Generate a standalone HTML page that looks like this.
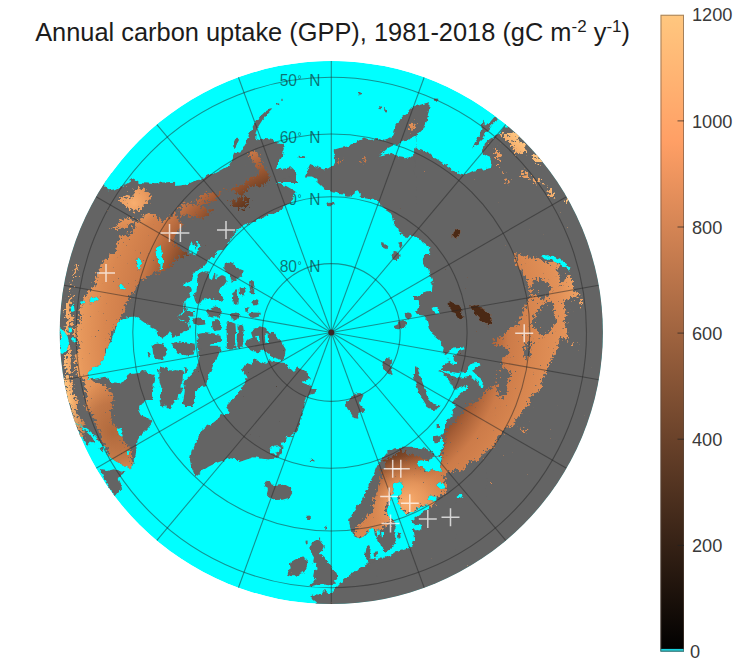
<!DOCTYPE html>
<html lang="en"><head><meta charset="utf-8"><title>Annual carbon uptake (GPP)</title>
<style>
html,body{margin:0;padding:0;background:#fff;}
body{width:750px;height:671px;overflow:hidden;position:relative;font-family:"Liberation Sans",Arial,Helvetica,sans-serif;}
svg{position:absolute;left:0;top:0;display:block}
.land{fill:#646464}
.sea{fill:#00ffff}
.grid{fill:none;stroke:#262626;stroke-opacity:.5;stroke-width:1.1}
.lab{font-size:15.6px;fill:#141414;fill-opacity:.6;text-anchor:end}
.tick{font-size:18.2px;fill:#3a3a3a}
.ttl{font-size:25.4px;fill:#1c1c1c}
.mk{stroke:#fff;stroke-opacity:.72;stroke-width:1.5;fill:none}
</style></head><body>
<svg width="750" height="671" viewBox="0 0 750 671" font-family="Liberation Sans, Arial, Helvetica, sans-serif">
<defs>
<clipPath id="disc"><circle cx="331.3" cy="332.5" r="271.6"/></clipPath>
<linearGradient id="cop" x1="0" y1="1" x2="0" y2="0">
<stop offset="0" stop-color="#000"/><stop offset="0.8" stop-color="rgb(255,159,101)"/><stop offset="1" stop-color="rgb(255,199,127)"/>
</linearGradient>

<radialGradient id="gpp" gradientUnits="userSpaceOnUse" cx="331.3" cy="332.5" r="272">
<stop offset="0.40" stop-color="#3a2010"/><stop offset="0.50" stop-color="#6e3e22"/><stop offset="0.58" stop-color="#a65e36"/>
<stop offset="0.65" stop-color="#cc7b49"/><stop offset="0.75" stop-color="#d98750"/><stop offset="0.85" stop-color="#e29158"/><stop offset="0.93" stop-color="#f0a364"/><stop offset="1" stop-color="#ffc680"/>
</radialGradient>
<filter id="rough" filterUnits="userSpaceOnUse" x="0" y="0" width="750" height="671" color-interpolation-filters="sRGB">
<feTurbulence type="fractalNoise" baseFrequency="0.07" numOctaves="3" seed="7" result="n"/>
<feDisplacementMap in="SourceGraphic" in2="n" scale="16" xChannelSelector="R" yChannelSelector="G" result="d"/>
<feGaussianBlur in="d" stdDeviation="2.6" result="b"/>
<feTurbulence type="fractalNoise" baseFrequency="0.42" numOctaves="2" seed="23" result="n2"/>
<feComposite in="b" in2="n2" operator="arithmetic" k1="0" k2="1" k3="1.3" k4="-0.65" result="c"/>
<feColorMatrix in="c" type="matrix" values="0 0 0 0 1  0 0 0 0 1  0 0 0 0 1  0 0 0 9 -4.1"/>
</filter>
<filter id="coast" filterUnits="userSpaceOnUse" x="0" y="0" width="750" height="671" color-interpolation-filters="sRGB">
<feTurbulence type="fractalNoise" baseFrequency="0.22" numOctaves="2" seed="3" result="n"/>
<feDisplacementMap in="SourceGraphic" in2="n" scale="4.5" xChannelSelector="R" yChannelSelector="G" result="dd"/>
<feGaussianBlur in="dd" stdDeviation="0.55"/>
</filter>
<filter id="rough2" filterUnits="userSpaceOnUse" x="0" y="0" width="750" height="671" color-interpolation-filters="sRGB">
<feTurbulence type="fractalNoise" baseFrequency="0.1" numOctaves="3" seed="41" result="n"/>
<feDisplacementMap in="SourceGraphic" in2="n" scale="14" xChannelSelector="R" yChannelSelector="G" result="d"/>
<feGaussianBlur in="d" stdDeviation="2" result="b"/>
<feTurbulence type="fractalNoise" baseFrequency="0.4" numOctaves="2" seed="5" result="n2"/>
<feComposite in="b" in2="n2" operator="arithmetic" k1="0" k2="1" k3="1.6" k4="-0.8" result="c"/>
<feColorMatrix in="c" type="matrix" values="0 0 0 0 0  0 0 0 0 0  0 0 0 0 0  0 0 0 9 -4.1"/>
</filter>
<radialGradient id="gppNA" gradientUnits="userSpaceOnUse" cx="331.3" cy="332.5" r="272">
<stop offset="0.485" stop-color="#3a2010"/><stop offset="0.585" stop-color="#6e3e22"/><stop offset="0.665" stop-color="#a65e36"/>
<stop offset="0.735" stop-color="#cc7b49"/><stop offset="0.835" stop-color="#d98750"/><stop offset="0.92" stop-color="#e7985c"/><stop offset="0.97" stop-color="#f4a866"/><stop offset="1" stop-color="#ffc680"/>
</radialGradient>
<radialGradient id="glow2" gradientUnits="userSpaceOnUse" cx="134" cy="203" r="26">
<stop offset="0" stop-color="#fbb273" stop-opacity=".9"/><stop offset="0.5" stop-color="#f4a768" stop-opacity=".6"/><stop offset="1" stop-color="#e7985c" stop-opacity="0"/>
</radialGradient>
<radialGradient id="glow" gradientUnits="userSpaceOnUse" cx="407" cy="502" r="46">
<stop offset="0" stop-color="#fbb070" stop-opacity=".95"/><stop offset="0.45" stop-color="#f0a063" stop-opacity=".7"/><stop offset="1" stop-color="#e08f55" stop-opacity="0"/>
</radialGradient>
<radialGradient id="shade" gradientUnits="userSpaceOnUse" cx="112" cy="432" r="52">
<stop offset="0" stop-color="#a05c34" stop-opacity=".75"/><stop offset="0.55" stop-color="#a8623a" stop-opacity=".55"/><stop offset="1" stop-color="#b2693d" stop-opacity="0"/>
</radialGradient>
<mask id="veg" maskUnits="userSpaceOnUse" x="0" y="0" width="750" height="671"><g filter="url(#rough)" fill="#fff">
<polygon points="123.6,470.5 114.6,463.9 108.7,455.0 102.7,443.1 96.7,431.1 92.3,419.2 89.3,407.3 86.3,392.4 83.3,380.5 78.8,368.6 76.5,360.0 76.1,347.3 76.5,333.0 77.4,320.5 78.3,308.0 81.8,299.0 89.0,293.7 91.7,284.7 95.3,275.8 100.6,266.8 106.9,257.9 114.0,248.9 121.2,240.0 130.1,234.0 134.6,226.9 139.1,219.7 142.7,213.5 146.2,210.8 151.6,212.6 157.0,215.3 162.3,217.0 169.5,215.3 176.0,211.0 181.7,226.1 177.2,233.6 174.2,242.5 180.2,248.5 187.6,251.4 189.1,255.9 183.2,258.9 174.2,260.4 166.8,264.9 159.3,270.8 151.9,274.3 144.4,277.2 139.1,283.1 133.7,290.1 130.1,295.5 126.6,302.6 123.0,311.6 118.5,318.7 115.8,325.9 113.1,333.0 110.5,340.2 107.8,349.1 106.0,360.0 102.7,361.1 93.7,368.0 86.3,374.5 93.7,380.5 105.7,384.9 114.6,389.4 111.6,398.4 108.7,407.3 113.1,419.2 119.1,431.1 125.0,443.1 131.0,455.0 135.5,465.4 131.0,471.4"/>
<polygon points="116.7,203.6 123.0,200.0 130.1,194.7 139.1,192.0 148.0,192.9 151.6,196.5 148.9,201.8 143.5,206.3 139.1,210.8 133.7,209.0 126.5,207.2 120.3,207.2"/>
<polygon points="105.1,227.8 112.2,226.0 121.2,222.4 128.3,219.7 133.7,218.8 134.6,223.3 130.1,226.9 124.7,230.4 115.8,232.2 108.7,231.3"/>
<polygon points="251.8,155.8 257.8,153.4 262.6,162.9 267.3,171.3 265.0,180.8 256.6,185.6 249.5,190.3 239.9,192.7 230.4,191.5 226.8,189.2 235.1,186.8 244.7,184.4 253.0,179.6 259.0,173.7 256.6,166.5 253.0,160.5"/>
<polygon points="230.4,203.5 237.5,199.9 247.1,198.7 251.8,202.3 244.7,207.0 235.1,208.7"/>
<polygon points="194.6,199.9 201.8,196.3 211.3,195.1 218.5,197.5 216.1,202.3 206.5,203.5 198.2,203.9"/>
<polygon points="181.5,211.8 189.8,208.2 199.4,206.3 208.9,207.0 213.7,210.6 206.5,214.2 195.8,214.9 186.3,215.4"/>
<polygon points="161.2,253.5 170.8,250.0 182.7,248.8 189.8,252.3 182.7,258.3 173.2,261.9 163.6,260.7"/>
<polygon points="439.5,474.4 451.4,471.4 463.4,465.5 475.3,459.5 484.2,452.1 493.2,444.6 500.6,435.7 508.1,429.7 515.5,423.7 520.0,414.8 524.5,402.9 533.2,400.9 539.1,388.9 545.1,377.0 548.1,365.1 554.0,353.2 557.0,344.2 563.0,338.3 571.9,344.2 577.9,341.2 574.9,329.3 571.9,320.4 576.4,311.4 580.9,305.5 577.9,296.5 573.4,284.6 570.4,275.7 563.0,268.2 554.0,263.7 545.1,265.2 539.1,260.8 530.2,257.8 518.3,253.3 507.8,248.8 515.3,257.8 521.2,266.7 524.2,275.7 527.2,284.6 530.2,293.6 527.2,302.5 524.2,311.4 518.3,320.4 509.3,329.3 500.4,336.8 491.4,341.2 497.4,347.2 506.3,353.2 503.4,362.1 497.4,374.0 491.4,386.0 482.5,394.9 476.0,403.8 470.8,402.9 464.9,411.8 458.9,417.8 452.9,426.7 448.5,435.7 445.5,444.6 442.5,453.6 439.5,462.5"/>
<polygon points="381.8,469.3 379.1,478.0 377.8,486.1 376.5,494.1 375.1,502.2 372.4,510.2 368.4,516.9 363.0,523.7 357.7,527.7 354.3,529.0 354.3,539.7 360.4,538.4 365.7,534.4 371.1,530.4 376.5,527.7 381.8,526.3 387.2,525.0 391.9,523.7 395.9,523.7 394.2,521.6 390.1,518.3 388.5,514.3 388.1,510.2 388.8,506.2 390.4,500.8 392.2,495.5 393.5,490.1 394.0,484.8 395.2,478.0 396.6,469.3"/>
<polygon points="401.9,482.7 402.7,486.1 401.4,490.1 400.1,494.1 398.7,498.2 398.2,502.2 399.5,506.2 402.2,510.2 405.4,512.9 408.7,514.3 412.7,512.9 416.7,510.2 420.7,508.2 424.7,506.2 428.5,505.1 432.8,502.2 438.2,498.8 446.2,495.5 446.2,469.3 403.3,469.3"/>
<polygon points="385.0,459.0 392.0,455.0 404.0,453.5 416.0,455.0 426.0,458.0 431.0,462.0 424.6,464.0 420.1,470.0 426.1,474.4 435.0,477.4 441.0,483.4 445.0,489.3 445.0,497.0 400.0,497.0 385.0,470.0"/>
<polygon points="180.7,210.6 190.8,206.0 201.1,202.2 210.8,198.5 219.8,194.7 229.0,190.0 227.0,186.0 218.0,190.7 209.2,194.5 199.5,198.0 189.2,202.0 178.9,206.6"/>
<polygon points="185.9,220.6 195.6,217.9 204.7,215.0 212.9,211.3 219.9,207.5 217.9,203.9 211.1,207.7 203.3,211.2 194.4,214.1 184.9,216.8"/>
<polygon points="228.9,203.5 238.9,197.6 249.6,192.4 258.9,186.7 257.1,183.7 247.8,189.2 237.1,194.4 227.1,200.5"/>
<polygon points="66.8,299.5 63.8,319.7 62.8,345.0 63.8,370.3 66.9,395.6 72.9,419.0 81.0,441.1 87.0,438.9 79.1,417.0 73.1,394.4 70.2,369.7 69.2,345.0 70.2,320.3 73.2,300.5"/>
<polygon points="76.0,261.6 72.0,279.6 69.0,299.7 73.0,300.3 76.0,280.4 80.0,262.4"/>
<polygon points="503.4,130.8 511.2,129.3 519.1,133.1 520.2,139.8 513.5,143.6 505.7,140.9 502.3,136.0"/>
<polygon points="485.5,144.3 492.2,151.0 497.7,156.6 500.2,154.2 494.6,148.6 487.9,141.9"/>
<polygon points="514.6,144.9 522.4,143.1 528.7,146.9 526.9,151.6 519.1,152.1 513.9,149.2"/>
<polygon points="527.3,158.1 535.8,157.0 542.1,161.5 540.3,167.3 532.5,168.2 528.0,163.2"/>
<polygon points="519.8,172.8 527.6,179.5 535.4,186.8 538.5,183.5 530.7,176.1 522.8,169.3"/>
<polygon points="499.4,166.8 505.6,175.2 511.9,183.7 514.2,182.1 507.9,173.6 501.6,165.1"/>
<polygon points="494.5,153.9 499.6,152.5 501.9,158.8 498.9,164.4 494.9,161.0"/>
<polygon points="539.7,175.5 545.3,184.3 549.7,193.1 553.0,201.9 556.7,200.5 553.3,191.5 548.8,182.4 543.1,173.4"/>
<polygon points="547.4,186.9 553.7,186.2 557.6,190.1 556.3,195.5 551.0,195.8 547.6,191.9"/>
<polygon points="559.9,199.1 564.4,197.6 566.5,200.8 563.5,203.5 560.4,202.3"/>
<polygon points="411.0,121.0 414.0,120.0 415.5,127.0 413.0,132.0 410.5,129.0"/>
<polygon points="338.5,160.0 344.0,157.5 347.5,160.0 345.0,164.0 340.0,166.0"/>
<polygon points="357.0,159.5 364.0,157.5 372.0,158.5 370.0,162.5 362.0,163.5"/>
<polygon points="373.7,146.2 379.1,147.0 378.5,151.6 374.0,151.0"/>
<polygon points="522.0,427.0 526.0,426.0 528.0,430.0 524.0,432.0"/>
<polygon points="508.0,441.0 511.0,440.0 512.0,444.0 509.0,445.0"/>
<polygon points="478.0,481.0 483.0,480.0 484.0,485.0 479.0,486.0"/>
<polygon points="492.0,478.0 496.0,477.0 497.0,482.0 493.0,483.0"/>
</g><g filter="url(#rough2)" fill="#000">
<polygon points="535.2,311.9 544.9,302.2 556.5,306.1 558.4,319.6 550.7,331.2 541.0,333.2 534.0,325.4"/>
<polygon points="529.4,282.8 541.0,277.0 550.7,284.7 548.7,296.4 537.1,300.2 530.1,294.4"/>
<polygon points="496.4,370.0 506.1,364.2 510.0,377.7 506.1,395.2 498.4,397.1 494.5,383.6"/>
<polygon points="564.2,298.3 579.7,294.4 584.4,315.7 581.7,344.8 568.1,346.7 562.3,327.4"/>
<polygon points="556.5,265.4 566.2,261.5 572.0,273.1 564.2,282.8 556.5,277.0"/>
<polygon points="521.6,342.9 529.4,339.0 533.2,350.6 527.4,360.3 520.8,354.5"/>
</g><g filter="url(#coast)" fill="#fff">
<polygon points="447.5,302.0 452.0,301.0 455.0,304.5 459.0,305.0 462.0,309.5 461.0,313.0 463.5,317.0 460.0,320.5 457.0,317.0 455.5,313.0 452.0,312.0 450.5,307.5 448.0,306.0"/>
<polygon points="470.0,306.5 475.0,305.0 479.0,308.0 484.0,308.5 487.0,312.5 491.5,314.5 490.5,319.0 493.0,323.0 488.5,326.5 485.0,322.5 481.5,321.5 479.0,316.5 475.5,315.5 473.0,311.0"/>
<polygon points="453.5,232.5 456.0,229.5 459.5,228.5 460.5,232.0 459.0,236.0 456.0,239.0 452.5,237.0"/>
</g></mask>
<mask id="landmask" maskUnits="userSpaceOnUse" x="0" y="0" width="750" height="671"><rect width="750" height="671" fill="#000"/><g filter="url(#coast)">
<polygon fill="#fff" points="271.4,108.3 272.6,109.3 267.8,113.9 262.6,119.8 258.6,125.9 256.0,131.9 255.2,137.4 259.4,140.2 265.3,137.8 271.4,139.1 275.5,141.8 282.2,143.2 284.9,148.5 282.2,156.6 278.2,163.3 275.5,170.0 283.5,168.6 291.6,167.3 295.6,171.3 297.0,176.0 297.0,183.0 195.0,183.0 205.7,178.0 213.8,174.0 221.8,170.0 228.5,166.0 232.6,159.2 235.2,152.5 239.3,153.9 242.7,148.5 246.0,143.2 247.9,137.3 250.6,130.3 254.4,123.8 259.6,117.1 265.3,111.5"/>
<polygon fill="#fff" points="237.2,137.6 239.0,139.9 236.7,144.4 234.9,148.0 233.1,146.6 234.0,141.7 235.4,138.7"/>
<polygon fill="#fff" points="276.0,102.4 278.2,102.4 278.2,104.5 276.0,104.5"/>
<polygon fill="#fff" points="281.4,98.8 283.6,98.8 283.6,101.0 281.4,101.0"/>
<polygon fill="#fff" points="304.8,176.6 307.5,169.5 310.2,164.1 316.5,166.8 323.6,169.5 331.7,166.8 335.2,158.7 333.5,149.8 339.7,148.0 348.7,146.2 357.6,141.2 363.9,137.6 370.1,139.9 377.3,139.1 384.4,140.8 389.8,139.1 392.5,133.7 395.1,126.5 398.7,121.5 402.3,116.7 406.8,114.0 411.2,108.7 416.6,105.1 416.6,176.6"/>
<polygon fill="#000" points="379.9,155.5 388.0,148.0 395.1,144.4 402.3,142.1 409.5,139.1 416.6,135.5 416.6,155.5 405.9,158.2 397.8,156.9 391.6,153.0"/>
<polygon fill="#fff" points="357.2,91.3 360.3,92.2 362.6,94.7 360.3,95.8 357.6,93.5"/>
<polygon fill="#fff" points="378.2,106.0 380.8,106.5 381.2,108.3 378.7,107.9"/>
<polygon fill="#fff" points="383.9,109.0 386.6,110.1 386.9,112.6 384.4,111.9"/>
<polygon fill="#fff" points="297.7,155.7 304.8,156.2 305.2,158.0 297.7,157.7"/>
<polygon fill="#fff" points="414.1,106.5 422.2,104.2 429.7,102.0 429.3,108.7 427.9,115.8 426.1,123.0 423.0,129.2 418.6,133.7 414.1,135.8"/>
<polygon fill="#fff" points="497.3,116.7 495.5,121.2 490.1,126.5 486.5,131.9 483.0,139.1 477.6,144.4 472.2,148.4 474.9,142.6 478.5,137.3 481.2,130.1 482.6,119.4 483.9,125.6 490.1,122.1 494.6,116.7"/>
<polygon fill="#fff" points="504.4,126.5 499.1,133.7 493.7,136.4 488.3,139.9 483.9,144.4 482.1,149.8 483.0,154.8 490.1,157.8 491.9,162.3 491.0,168.0 483.0,169.5 474.0,170.4 468.7,173.0 463.3,174.5 454.3,171.2 449.0,166.8 441.8,162.3 434.7,157.8 429.3,152.5 422.2,149.8 414.1,148.0 414.1,176.6 536.6,176.6 536.6,126.5"/>
<polygon fill="#fff" points="435.0,98.6 437.2,98.6 437.2,100.8 435.0,100.8"/>
<polygon fill="#fff" points="535.0,55.0 660.0,55.0 660.0,180.0 535.0,180.0"/>
<polygon fill="#fff" points="414.0,174.0 660.0,174.0 660.0,300.0 414.0,300.0"/>
<polygon fill="#fff" points="304.8,174.1 312.9,176.8 318.2,182.2 323.6,187.5 330.8,191.5 339.7,194.0 348.7,195.7 353.1,195.0 354.0,191.5 357.6,190.2 359.7,192.9 359.7,196.8 366.5,197.5 373.7,199.3 379.1,203.6 384.4,208.3 389.8,211.8 393.4,217.9 394.3,225.1 397.8,228.7 400.5,234.0 404.1,236.2 409.5,237.1 416.6,235.3 416.6,174.1"/>
<polygon fill="#fff" points="326.3,203.6 329.9,201.8 334.0,202.2 334.7,204.5 331.7,206.3 328.1,206.3"/>
<polygon fill="#fff" points="381.2,242.1 384.4,243.0 387.1,246.5 386.6,249.2 383.5,248.0 381.2,244.7"/>
<polygon fill="#fff" points="399.3,242.6 401.8,242.2 402.3,245.6 400.5,248.7 399.3,246.5"/>
<polygon fill="#fff" points="390.7,254.6 394.3,251.9 398.7,252.8 399.6,257.3 396.9,260.5 393.0,259.4"/>
<polygon fill="#000" points="409.6,234.9 419.5,238.5 423.0,243.0 427.9,246.5 430.2,251.9 426.1,257.3 423.0,262.6 427.5,268.0 430.2,275.1 432.9,282.3 432.0,289.5 435.6,296.6 409.6,296.6"/>
<polygon fill="#fff" points="242.0,369.2 246.5,362.9 251.8,364.7 254.5,358.5 259.9,362.0 266.1,363.8 270.6,360.2 276.9,362.0 284.0,362.9 289.4,367.4 293.9,371.9 298.3,367.4 303.7,370.1 308.2,373.7 310.8,379.0 305.5,379.9 301.9,382.6 309.1,385.3 314.4,388.9 318.0,388.9 314.4,393.3 309.1,395.1 305.5,398.7 303.7,405.8 301.9,413.0 300.1,420.1 298.3,427.3 294.7,432.7 296.6,431.0 291.8,437.0 287.1,435.8 285.9,441.7 279.9,442.9 283.5,447.7 281.1,454.8 275.1,458.4 268.0,459.6 260.8,458.4 253.7,457.2 246.5,459.6 239.4,462.0 234.6,459.6 228.7,457.2 222.7,460.8 215.5,463.2 208.4,466.8 201.2,471.5 195.3,476.3 191.7,468.0 189.8,459.6 191.7,451.3 195.3,442.9 198.8,435.8 203.6,428.6 208.4,425.0 213.2,422.7 217.9,419.1 219.1,414.3 223.9,416.7 229.8,411.9 226.3,407.2 229.8,400.0 229.5,402.3 233.9,398.7 238.4,393.3 242.9,386.2 246.5,379.0 244.7,373.7"/>
<polygon fill="#000" points="270.4,447.7 276.3,445.3 279.9,447.7 278.7,452.9 274.0,454.4 269.9,451.3"/>
<polygon fill="#fff" points="264.4,482.3 269.2,479.9 271.6,484.6 276.3,485.8 284.7,484.6 289.5,487.0 292.3,493.0 289.5,497.8 282.3,499.7 275.1,500.1 270.4,497.8 266.8,494.2 268.0,489.4 263.7,487.0"/>
<polygon fill="#fff" points="182.2,401.2 188.1,400.0 194.1,401.2 191.7,406.0 184.5,406.0"/>
<polygon fill="#fff" points="310.9,459.6 313.3,459.6 313.3,462.0 310.9,462.0"/>
<polygon fill="#fff" points="307.3,516.8 309.7,516.8 309.7,519.9 307.3,519.9"/>
<polygon fill="#fff" points="250.0,332.5 254.5,328.9 260.8,326.3 266.1,328.0 269.7,333.4 274.2,332.5 276.9,337.9 282.2,342.4 285.8,348.6 284.9,355.8 282.2,360.2 276.9,358.5 271.5,356.7 267.9,353.1 263.5,349.5 259.0,352.2 253.6,351.3 248.2,348.6 244.7,344.1 248.2,339.7 251.8,337.9"/>
<polygon fill="#000" points="256.3,336.1 259.9,335.7 260.8,341.1 257.2,341.8"/>
<polygon fill="#000" points="264.7,334.7 267.6,334.3 268.3,342.9 265.4,343.2"/>
<polygon fill="#fff" points="227.1,325.4 233.0,324.5 233.9,330.7 232.2,337.9 233.0,345.0 230.4,349.5 226.8,348.6"/>
<polygon fill="#fff" points="237.5,325.4 242.9,324.5 243.8,330.7 242.0,337.9 242.9,345.0 240.2,348.6 237.2,346.8 237.9,336.1"/>
<polygon fill="#fff" points="223.9,263.2 229.9,261.7 234.4,263.9 237.4,268.4 242.6,270.6 241.8,275.9 237.4,278.8 232.9,282.6 229.9,280.3 229.2,274.4 226.2,271.4 223.2,267.7"/>
<polygon fill="#fff" points="233.6,290.0 237.4,289.3 238.1,295.2 237.4,304.2 234.1,304.9 232.9,298.2"/>
<polygon fill="#fff" points="239.6,287.5 244.8,287.0 245.6,292.3 243.3,295.5 240.0,294.5"/>
<polygon fill="#fff" points="249.0,281.5 252.3,280.6 254.5,286.3 254.0,293.5 250.8,293.0 249.6,287.0"/>
<polygon fill="#fff" points="252.3,299.7 257.5,300.5 258.5,304.2 254.5,305.4 252.0,303.0"/>
<polygon fill="#fff" points="244.8,307.2 248.5,307.5 249.0,311.3 245.6,311.9"/>
<polygon fill="#fff" points="231.4,313.4 235.9,312.4 240.3,313.9 240.0,317.9 234.4,318.8 231.1,316.8"/>
<polygon fill="#fff" points="248.5,313.4 253.7,312.4 259.7,312.8 259.4,316.4 253.0,317.9 249.0,316.8"/>
<polygon fill="#fff" points="215.0,306.4 220.2,307.2 221.3,312.4 219.5,317.6 215.0,317.6"/>
<polygon fill="#fff" points="215.0,320.6 220.2,321.3 221.0,326.5 218.7,329.5 215.0,329.5"/>
<polygon fill="#fff" points="227.7,322.4 231.4,322.1 231.7,325.0 228.1,325.3"/>
<polygon fill="#fff" points="297.0,174.0 290.2,176.7 280.8,179.4 276.8,183.4 286.2,186.1 295.6,191.4 292.9,199.5 286.2,206.2 278.2,211.6 262.1,218.3 248.6,223.6 246.5,225.1 241.2,227.8 234.9,232.2 230.4,238.5 227.8,244.7 223.3,250.1 218.7,250.4 214.6,255.7 209.3,259.8 205.2,263.8 201.2,268.5 197.2,269.8 195.2,271.8 192.5,275.8 190.5,281.2 185.1,283.9 182.4,285.2 185.1,286.6 189.8,286.6 191.8,290.6 189.1,296.0 185.1,301.3 183.8,306.7 182.4,312.1 178.4,317.4 182.4,320.1 186.5,322.8 190.5,328.2 184.7,300.0 183.2,306.0 184.7,310.4 181.7,314.9 178.0,317.1 180.2,319.4 184.7,322.4 189.2,323.8 191.4,326.8 189.2,329.8 183.2,332.0 178.7,335.8 174.3,337.3 170.6,338.0 172.0,333.5 169.8,331.3 166.8,335.8 162.4,338.7 157.9,335.8 156.4,329.8 151.9,327.6 146.0,323.8 140.0,319.4 133.7,316.5 126.5,317.4 121.2,320.0 116.7,323.6 114.0,330.8 112.2,337.9 108.7,345.1 106.0,352.2 103.3,359.4 99.7,364.7 94.3,366.5 89.9,370.1 86.8,375.5 89.0,379.4 96.1,378.5 105.1,376.7 108.7,379.4 112.2,383.0 118.5,383.9 123.9,381.2 126.5,376.7 130.1,374.0 137.3,373.2 144.4,372.3 149.8,374.0 153.5,373.5 155.2,379.7 153.5,386.0 150.8,392.2 148.1,397.6 144.5,403.0 140.0,405.6 138.2,410.1 140.9,415.5 146.3,417.3 150.8,419.1 151.7,423.5 148.1,428.0 143.6,432.5 140.0,436.0 137.4,440.5 136.5,447.7 135.6,455.0 133.7,459.4 134.6,464.7 130.1,468.3 125.6,466.5 121.2,463.9 115.8,461.2 110.4,457.6 106.9,452.2 103.3,446.9 99.7,441.5 95.2,436.1 90.8,431.7 85.4,428.1 80.0,425.4 73.8,421.8 44.3,421.8 20.0,300.0 40.0,174.0 296.0,174.0"/>
<polygon fill="#000" points="105.1,174.1 106.0,180.4 104.2,186.6 108.7,190.2 115.8,189.3 122.1,185.7 128.3,182.2 133.7,178.6 139.1,183.0 148.0,183.6 155.1,184.3 162.3,182.5 176.6,181.8 176.6,174.1"/>
<polygon fill="#000" points="174.1,174.1 209.9,174.1 201.8,178.9 194.7,180.7 189.3,183.4 182.2,185.2 174.1,186.1"/>
<polygon fill="#fff" points="73.8,422.7 80.0,426.3 85.4,429.9 89.9,434.3 93.5,439.7 95.2,444.2 90.8,442.4 88.1,446.0 84.5,441.5 80.9,437.0 77.4,431.7 65.7,427.2"/>
<polygon fill="#fff" points="99.7,446.9 101.9,447.2 102.9,451.9 100.8,452.2"/>
<polygon fill="#fff" points="100.6,470.1 106.9,471.0 114.0,469.2 119.4,471.0 124.7,471.9 120.3,474.6 117.6,479.1 120.3,484.4 122.1,488.0 118.5,492.5 115.8,496.0 112.2,493.4 109.5,488.0 106.0,482.6 103.3,476.4"/>
<polygon fill="#000" points="88.1,300.4 92.6,297.7 97.9,296.8 99.4,299.5 95.2,302.2 89.9,303.6"/>
<polygon fill="#000" points="80.0,301.8 84.5,300.4 85.4,303.0 80.9,304.3"/>
<polygon fill="#000" points="59.5,328.1 63.9,330.8 67.5,336.1 69.3,343.3 66.6,350.4 62.2,354.0 59.5,352.2 60.4,345.1 61.3,337.9 59.5,333.5"/>
<polygon fill="#000" points="72.0,337.0 75.6,337.6 76.1,341.1 72.5,341.5"/>
<polygon fill="#000" points="70.7,305.7 73.8,304.8 74.7,312.0 71.5,312.9"/>
<polygon fill="#000" points="68.4,328.1 71.5,327.5 72.0,332.9 68.9,333.5"/>
<polygon fill="#000" points="156.9,246.5 160.5,245.6 162.3,253.7 163.2,260.8 162.3,268.9 159.6,269.8 158.7,260.8 156.0,255.5"/>
<polygon fill="#000" points="136.4,258.2 139.1,257.6 141.2,262.6 140.8,268.0 138.2,268.4 136.9,263.5"/>
<polygon fill="#000" points="118.5,285.5 122.1,284.4 125.1,287.7 123.9,289.8 119.7,289.1"/>
<polygon fill="#000" points="189.3,246.5 192.0,242.1 194.7,244.7 195.6,250.1 198.2,241.2 200.0,243.9 198.2,251.9 196.5,256.4 192.9,255.5 192.0,250.1 190.2,253.7 188.4,251.9"/>
<polygon fill="#000" points="117.2,428.1 120.3,427.2 123.3,433.5 122.1,437.0 119.0,435.2"/>
<polygon fill="#000" points="126.5,450.8 129.8,450.4 130.1,453.7 127.1,454.0"/>
<polygon fill="#fff" points="152.6,347.5 157.0,343.9 162.4,344.8 166.0,348.4 165.1,352.9 160.6,355.6 157.9,358.2 155.2,354.7 152.9,352.0"/>
<polygon fill="#fff" points="147.5,352.5 150.4,352.9 151.1,356.5 148.6,357.4"/>
<polygon fill="#fff" points="172.2,343.0 179.4,341.3 186.5,342.2 194.6,343.9 195.5,349.3 190.1,353.8 183.0,352.9 177.6,350.2 173.1,348.4"/>
<polygon fill="#000" points="180.3,344.8 186.5,345.4 185.6,348.4 180.8,347.9"/>
<polygon fill="#fff" points="157.0,369.0 158.8,369.0 158.8,372.6 157.0,372.6"/>
<polygon fill="#fff" points="183.9,367.2 186.5,367.5 186.9,373.5 184.2,373.5"/>
<polygon fill="#fff" points="198.2,345.7 220.5,345.7 220.5,349.3 217.8,356.5 214.3,361.8 211.6,368.1 208.9,374.3 207.1,380.6 205.3,386.0 200.8,387.8 196.4,390.4 194.6,395.8 193.7,402.1 191.0,405.6 185.6,405.6 183.0,403.0 183.9,396.7 184.7,390.4 185.6,385.1 183.0,388.7 179.4,394.0 175.8,398.5 173.1,403.9 170.4,408.3 166.9,408.3 165.1,403.9 163.3,406.5 160.6,405.6 159.7,399.4 160.6,392.2 164.2,386.9 166.9,381.5 165.1,376.1 163.6,370.8 166.0,368.1 168.7,369.9 170.4,375.2 174.0,377.9 177.6,377.0 180.3,379.7 182.1,384.2 184.7,380.6 188.3,377.0 191.9,373.5 195.5,369.0 198.2,363.6 199.1,358.2 198.2,352.0"/>
<polygon fill="#000" points="180.3,383.6 183.5,383.3 183.9,387.4 180.6,387.8"/>
<polygon fill="#fff" points="226.8,334.1 235.0,334.1 235.0,347.5 229.5,347.9 227.3,342.2"/>
<polygon fill="#fff" points="197.4,334.3 204.1,333.1 211.5,334.0 220.5,335.8 221.2,341.7 214.5,342.5 210.0,344.7 209.3,350.7 205.6,351.4 199.6,349.2 197.8,343.2"/>
<polygon fill="#fff" points="226.4,322.4 230.9,322.1 235.4,323.8 236.1,334.3 233.1,334.6 232.7,343.2 235.4,344.0 235.4,349.2 229.4,349.5 227.2,344.7 226.7,332.8"/>
<polygon fill="#fff" points="207.1,310.7 213.8,310.1 220.5,311.6 220.2,316.1 213.8,316.7 207.8,315.6"/>
<polygon fill="#fff" points="214.5,322.4 220.5,322.7 221.4,328.0 215.3,328.3"/>
<polygon fill="#fff" points="196.6,319.4 201.1,319.1 205.6,320.6 205.3,324.6 199.6,324.7 196.9,323.1"/>
<polygon fill="#fff" points="189.2,311.9 193.9,311.9 194.5,316.4 189.5,316.4"/>
<polygon fill="#fff" points="230.9,313.4 240.0,313.1 240.0,319.4 231.7,319.4"/>
<polygon fill="#fff" points="152.7,344.7 157.9,343.5 163.8,344.7 167.1,349.2 166.1,355.9 162.4,359.6 156.4,359.3 153.1,353.7"/>
<polygon fill="#fff" points="175.0,344.0 183.2,342.9 190.7,343.5 195.1,347.7 193.7,354.4 186.2,355.4 178.7,353.7 175.5,349.2"/>
<polygon fill="#fff" points="140.0,371.5 146.0,371.2 152.7,374.5 153.4,383.5 151.9,392.4 152.7,400.0 140.0,400.0"/>
<polygon fill="#fff" points="159.4,367.8 166.8,367.1 169.8,371.5 175.8,370.0 183.2,371.5 182.5,380.5 178.7,389.4 177.3,400.0 162.4,400.0 161.6,389.4 159.4,380.5"/>
<polygon fill="#fff" points="197.2,277.2 199.9,273.8 205.2,271.2 208.6,271.8 209.3,278.5 211.9,279.9 214.6,272.5 216.6,273.8 216.0,278.5 221.3,275.2 225.4,276.5 226.7,281.2 224.0,285.2 220.0,287.9 218.7,291.9 221.3,296.0 224.0,300.0 218.7,301.3 210.6,298.7 205.2,297.3 202.6,301.3 198.5,304.0 195.2,301.3 193.8,296.0 196.5,290.6 197.2,283.9"/>
<polygon fill="#fff" points="207.9,309.4 213.3,307.4 220.0,308.7 222.0,312.7 218.7,316.8 211.9,317.4 208.2,314.1"/>
<polygon fill="#fff" points="193.2,318.8 198.5,317.4 203.9,319.4 203.2,324.1 197.9,325.5 193.4,323.5"/>
<polygon fill="#fff" points="211.9,321.5 218.0,320.1 221.3,324.1 220.0,330.2 214.6,330.8 212.2,326.8"/>
<polygon fill="#fff" points="185.1,311.4 189.8,310.5 191.8,313.4 189.8,316.1 185.8,315.8"/>
<polygon fill="#fff" points="424.4,254.1 422.6,260.4 424.4,265.7 429.8,271.1 432.5,276.5 431.6,281.8 434.3,287.2 432.5,291.7 426.2,292.6 420.8,294.3 418.2,298.8 419.9,305.1 417.3,309.5 414.6,312.2 419.1,314.9 424.4,315.8 428.0,321.2 429.8,328.3 432.5,335.5 437.8,339.9 442.3,344.4 444.1,351.6 446.8,355.1 451.2,352.5 456.6,351.6 456.6,254.1"/>
<polygon fill="#000" points="431.2,306.9 435.1,306.0 438.7,309.5 439.3,313.7 436.0,314.0 433.0,311.3"/>
<polygon fill="#fff" points="454.0,254.0 660.0,254.0 660.0,640.0 454.0,640.0"/>
<polygon fill="#fff" points="414.0,334.0 536.0,334.0 536.0,457.0 414.0,457.0"/>
<polygon fill="#000" points="409.6,332.9 431.5,332.9 438.2,338.6 441.8,342.2 442.7,347.5 441.8,352.9 445.8,355.0 449.0,361.8 445.4,363.6 441.8,368.1 438.2,369.9 442.7,373.5 447.2,377.9 450.8,383.3 453.5,388.7 459.7,387.8 466.9,385.1 468.7,387.8 461.5,393.1 455.2,398.5 451.7,403.0 455.2,404.7 453.5,410.1 450.8,417.3 446.3,422.6 444.5,429.8 443.6,436.9 444.5,442.3 441.8,449.5 439.1,456.6 409.6,456.6"/>
<polygon fill="#000" points="445.8,355.0 450.8,350.2 455.2,347.5 463.3,346.6 464.7,349.3 458.8,351.1 454.3,354.7 453.5,360.0 457.0,363.6 454.3,364.9 449.0,361.8"/>
<polygon fill="#000" points="438.2,369.9 445.4,369.9 450.8,371.7 457.9,372.9 466.9,371.7 468.7,367.2 472.2,363.6 479.4,362.7 480.5,365.4 474.9,367.2 472.2,370.8 475.8,374.3 480.3,377.0 483.9,382.4 483.0,387.8 480.3,388.7 478.5,383.3 474.9,378.8 468.7,376.1 461.5,377.4 454.3,376.5 449.0,374.7 443.6,372.0"/>
<polygon fill="#fff" points="415.0,366.3 417.7,367.2 419.5,374.3 422.2,381.5 424.8,388.7 426.6,394.9 429.3,399.4 433.8,403.9 439.1,405.6 438.2,408.3 432.9,409.2 428.4,406.5 425.7,402.1 423.0,395.8 420.4,388.7 417.7,380.6 415.0,376.1"/>
<polygon fill="#fff" points="436.5,423.5 440.0,423.9 440.0,428.0 436.8,428.0"/>
<polygon fill="#fff" points="432.9,436.6 437.4,435.5 440.4,437.8 439.7,441.9 434.7,442.3"/>
<polygon fill="#fff" points="404.7,313.1 409.2,312.6 411.9,316.7 408.3,319.4 405.6,317.6"/>
<polygon fill="#fff" points="398.5,321.5 403.9,320.3 406.5,323.9 403.9,328.3 398.5,329.2 394.0,328.7 393.1,326.2 396.7,325.1"/>
<polygon fill="#fff" points="391.3,254.1 399.4,254.1 398.5,258.9 394.0,259.5"/>
<polygon fill="#fff" points="384.2,360.2 387.2,357.8 390.1,358.7 391.9,362.3 390.8,369.5 392.6,373.0 388.7,374.5 386.0,371.2 382.9,367.3"/>
<polygon fill="#fff" points="345.7,402.7 350.2,399.1 353.8,394.7 359.1,392.9 363.6,394.7 361.8,399.1 359.1,403.6 361.8,407.2 365.0,409.0 364.5,412.6 360.9,411.7 358.2,413.5 358.2,418.8 353.8,417.9 351.1,413.5 347.5,409.9"/>
<polygon fill="#fff" points="415.5,374.1 419.1,382.2 421.7,389.3 424.4,396.5 428.0,402.7 431.6,407.2 436.9,406.3 440.5,405.4 438.7,409.0 433.4,409.9 428.9,409.0 425.3,403.6 421.7,397.4 418.2,390.2 415.5,383.0 413.3,374.1"/>
<polygon fill="#fff" points="393.0,448.6 387.6,452.2 383.1,457.5 378.7,462.9 376.0,468.2 373.3,475.4 369.7,482.6 367.0,489.7 363.5,496.9 359.9,504.0 355.4,510.3 351.8,514.7 349.1,520.1 350.0,527.3 351.8,532.6 354.5,536.6 359.0,538.4 363.5,536.6 367.0,533.0 369.7,529.4 372.4,527.6 374.2,530.8 375.1,536.2 377.8,541.6 380.4,546.0 384.0,549.6 387.6,550.9 391.2,548.4 392.6,542.5 394.4,538.0 396.0,532.6 394.4,528.2 392.6,523.7 390.8,518.3 389.0,513.9 388.8,507.6 390.3,502.2 392.1,496.9 393.0,490.6 393.9,485.2 396.5,482.2 401.0,481.3 403.2,485.2 402.3,491.5 400.5,496.9 398.7,502.2 399.4,506.7 401.9,510.3 405.5,513.9 410.8,512.1 416.2,509.4 421.6,506.7 426.9,504.0 431.4,501.9 446.6,498.7 446.6,471.8 439.5,471.8 432.3,468.6 429.6,471.8 425.1,470.0 421.6,466.5 416.2,464.7 418.0,462.0 422.5,461.1 427.8,460.2 432.3,458.4 433.2,453.9 430.5,450.4 425.1,448.6 418.0,447.7 409.1,447.7 400.1,447.7"/>
<polygon fill="#fff" points="445.5,424.1 443.7,432.2 440.1,435.7 442.8,441.1 443.7,448.2 442.8,455.4 441.0,460.8 440.1,467.0 441.9,473.3 443.7,478.7 444.6,485.8 440.1,488.5 436.5,485.8 438.3,482.2 436.5,478.7 434.7,475.1 431.2,473.3 426.7,472.4 424.0,468.3 418.7,467.0 416.9,463.5 414.2,467.9 413.3,478.7 416.9,496.5 418.7,546.6 486.6,546.6 486.6,424.1"/>
<polygon fill="#000" points="436.5,482.9 441.8,481.9 444.7,485.1 443.6,488.7 439.1,489.0 436.5,486.5"/>
<polygon fill="#000" points="428.4,496.2 432.9,495.1 436.8,496.7 436.5,500.3 432.0,500.8 428.6,499.0"/>
<polygon fill="#000" points="457.9,495.3 461.9,494.7 463.3,497.2 460.6,498.8 457.9,497.6"/>
<polygon fill="#fff" points="334.1,588.9 340.4,582.6 345.7,578.2 351.1,573.7 354.7,571.0 358.2,569.2 363.6,566.5 367.2,563.9 368.1,561.2 370.8,558.5 376.1,559.4 381.5,557.6 388.7,558.0 394.0,555.3 399.4,552.6 404.7,549.9 410.1,548.7 412.8,545.1 411.9,539.7 411.0,534.3 412.8,529.9 416.4,530.8 419.9,529.0 419.1,524.5 415.5,522.7 412.8,523.6 413.7,519.1 417.3,514.7 422.6,509.3 428.0,504.8 432.5,502.2 436.9,499.5 442.3,496.8 445.9,494.1 456.6,494.1 456.6,616.6 334.1,616.6"/>
<polygon fill="#fff" points="365.4,546.9 369.0,545.1 370.8,548.7 369.9,554.0 370.8,558.5 368.1,561.5 365.4,557.6 364.5,552.2"/>
<polygon fill="#fff" points="373.5,553.1 377.9,552.2 378.8,556.7 374.3,557.6"/>
<polygon fill="#000" points="376.5,530.8 379.4,530.4 380.1,535.2 377.2,535.8"/>
<polygon fill="#000" points="381.1,532.0 384.0,531.7 384.5,537.0 381.9,537.4"/>
<polygon fill="#fff" points="384.0,482.0 426.0,482.0 426.0,562.0 384.0,562.0"/>
<polygon fill="#000" points="393.9,484.8 397.9,482.1 401.9,482.7 402.7,486.1 401.4,490.1 400.1,494.1 398.7,498.2 398.2,502.2 399.5,506.2 402.2,510.2 405.4,512.9 408.7,514.3 412.7,512.1 416.7,509.2 420.7,506.9 424.7,504.7 428.8,503.5 429.6,508.4 425.6,510.6 421.5,513.3 417.5,516.0 414.8,518.3 412.3,520.4 411.6,523.0 414.3,524.3 418.0,523.7 420.7,525.0 421.5,528.3 419.6,530.6 416.2,529.8 414.0,527.9 412.8,529.8 413.5,534.4 414.2,539.7 412.9,545.1 408.9,548.1 404.9,549.4 400.9,550.7 396.8,552.1 392.8,552.8 390.1,556.1 386.1,557.5 382.1,556.1 379.4,557.5 375.1,555.8 378.5,553.2 383.8,552.1 387.2,551.1 390.1,548.9 393.2,545.8 395.2,543.1 396.0,539.7 394.7,535.7 394.0,531.7 395.4,527.7 396.7,523.7 394.0,521.6 390.0,518.3 388.4,514.3 388.0,510.2 388.7,506.2 390.3,500.8 392.0,495.5 393.4,490.1"/>
<polygon fill="#fff" points="397.7,533.0 399.9,532.4 400.6,537.1 398.6,537.7"/>
<polygon fill="#fff" points="312.2,542.4 316.7,539.7 320.3,540.6 323.9,546.0 322.1,550.4 319.4,553.1 323.9,557.6 328.3,563.0 331.9,568.3 336.4,572.8 337.3,578.2 333.7,580.8 336.4,583.5 330.1,584.4 323.9,583.5 317.6,584.4 311.3,586.2 308.7,585.3 313.1,581.7 316.7,579.1 313.1,576.4 314.0,571.9 317.6,569.2 316.7,564.7 313.1,562.1 314.0,557.6 311.3,553.1 310.4,547.8"/>
<polygon fill="#fff" points="290.8,562.1 297.0,558.5 303.3,557.6 307.8,560.3 306.9,566.5 304.2,571.9 298.8,574.6 292.6,576.4 288.1,574.6 287.2,571.0 290.8,568.3 289.9,564.7"/>
<polygon fill="#fff" points="310.4,596.0 315.8,594.3 321.5,595.1 324.7,590.1 328.3,592.5 333.7,591.6 339.1,588.0 344.4,582.6 349.8,576.4 355.1,571.9 360.5,568.3 365.9,565.6 371.2,563.0 376.6,560.8 376.6,616.6 314.0,616.6 315.8,602.3 312.2,599.6"/>
<polygon fill="#fff" points="307.4,516.8 309.2,516.8 309.2,520.0 307.4,520.0"/>
<polygon fill="#fff" points="325.3,526.8 327.1,526.8 327.1,529.9 325.3,529.9"/>
<polygon fill="#fff" points="318.0,536.5 320.1,536.5 320.1,538.8 318.0,538.8"/>
<polygon fill="#fff" points="305.6,540.6 307.6,540.6 307.6,543.3 305.6,543.3"/>
<polygon fill="#000" points="542.0,256.8 546.5,255.0 553.7,256.3 560.8,259.9 567.1,264.3 571.5,268.8 569.7,270.6 564.4,267.0 557.2,262.6 551.0,259.9 544.7,259.3"/>
</g></mask>
</defs>
<rect width="750" height="671" fill="#fff"/>
<text class="ttl" x="35.2" y="41">Annual carbon uptake (GPP), 1981-2018 (gC m<tspan dy="-9" font-size="17">-2</tspan><tspan dy="9"> y</tspan><tspan dy="-9" font-size="17">-1</tspan><tspan dy="9">)</tspan></text>
<g clip-path="url(#disc)">
<circle class="sea" cx="331.3" cy="332.5" r="271.6"/>
<text class="lab" x="320.5" y="85.9">50<tspan font-size="10.5" dy="-3" dx=".5">°</tspan><tspan dy="3" dx="3.2"> N</tspan></text>
<text class="lab" x="320.5" y="142.6">60<tspan font-size="10.5" dy="-3" dx=".5">°</tspan><tspan dy="3" dx="3.2"> N</tspan></text>
<text class="lab" x="320.5" y="205.3">70<tspan font-size="10.5" dy="-3" dx=".5">°</tspan><tspan dy="3" dx="3.2"> N</tspan></text>
<text class="lab" x="320.5" y="272.2">80<tspan font-size="10.5" dy="-3" dx=".5">°</tspan><tspan dy="3" dx="3.2"> N</tspan></text>
<g filter="url(#coast)">
<polygon class="land" points="271.4,108.3 272.6,109.3 267.8,113.9 262.6,119.8 258.6,125.9 256.0,131.9 255.2,137.4 259.4,140.2 265.3,137.8 271.4,139.1 275.5,141.8 282.2,143.2 284.9,148.5 282.2,156.6 278.2,163.3 275.5,170.0 283.5,168.6 291.6,167.3 295.6,171.3 297.0,176.0 297.0,183.0 195.0,183.0 205.7,178.0 213.8,174.0 221.8,170.0 228.5,166.0 232.6,159.2 235.2,152.5 239.3,153.9 242.7,148.5 246.0,143.2 247.9,137.3 250.6,130.3 254.4,123.8 259.6,117.1 265.3,111.5"/>
<polygon class="land" points="237.2,137.6 239.0,139.9 236.7,144.4 234.9,148.0 233.1,146.6 234.0,141.7 235.4,138.7"/>
<polygon class="land" points="276.0,102.4 278.2,102.4 278.2,104.5 276.0,104.5"/>
<polygon class="land" points="281.4,98.8 283.6,98.8 283.6,101.0 281.4,101.0"/>
<polygon class="land" points="304.8,176.6 307.5,169.5 310.2,164.1 316.5,166.8 323.6,169.5 331.7,166.8 335.2,158.7 333.5,149.8 339.7,148.0 348.7,146.2 357.6,141.2 363.9,137.6 370.1,139.9 377.3,139.1 384.4,140.8 389.8,139.1 392.5,133.7 395.1,126.5 398.7,121.5 402.3,116.7 406.8,114.0 411.2,108.7 416.6,105.1 416.6,176.6"/>
<polygon class="sea" points="379.9,155.5 388.0,148.0 395.1,144.4 402.3,142.1 409.5,139.1 416.6,135.5 416.6,155.5 405.9,158.2 397.8,156.9 391.6,153.0"/>
<polygon class="land" points="357.2,91.3 360.3,92.2 362.6,94.7 360.3,95.8 357.6,93.5"/>
<polygon class="land" points="378.2,106.0 380.8,106.5 381.2,108.3 378.7,107.9"/>
<polygon class="land" points="383.9,109.0 386.6,110.1 386.9,112.6 384.4,111.9"/>
<polygon class="land" points="297.7,155.7 304.8,156.2 305.2,158.0 297.7,157.7"/>
<polygon class="land" points="414.1,106.5 422.2,104.2 429.7,102.0 429.3,108.7 427.9,115.8 426.1,123.0 423.0,129.2 418.6,133.7 414.1,135.8"/>
<polygon class="land" points="497.3,116.7 495.5,121.2 490.1,126.5 486.5,131.9 483.0,139.1 477.6,144.4 472.2,148.4 474.9,142.6 478.5,137.3 481.2,130.1 482.6,119.4 483.9,125.6 490.1,122.1 494.6,116.7"/>
<polygon class="land" points="504.4,126.5 499.1,133.7 493.7,136.4 488.3,139.9 483.9,144.4 482.1,149.8 483.0,154.8 490.1,157.8 491.9,162.3 491.0,168.0 483.0,169.5 474.0,170.4 468.7,173.0 463.3,174.5 454.3,171.2 449.0,166.8 441.8,162.3 434.7,157.8 429.3,152.5 422.2,149.8 414.1,148.0 414.1,176.6 536.6,176.6 536.6,126.5"/>
<polygon class="land" points="435.0,98.6 437.2,98.6 437.2,100.8 435.0,100.8"/>
<polygon class="land" points="535.0,55.0 660.0,55.0 660.0,180.0 535.0,180.0"/>
<polygon class="land" points="414.0,174.0 660.0,174.0 660.0,300.0 414.0,300.0"/>
<polygon class="land" points="304.8,174.1 312.9,176.8 318.2,182.2 323.6,187.5 330.8,191.5 339.7,194.0 348.7,195.7 353.1,195.0 354.0,191.5 357.6,190.2 359.7,192.9 359.7,196.8 366.5,197.5 373.7,199.3 379.1,203.6 384.4,208.3 389.8,211.8 393.4,217.9 394.3,225.1 397.8,228.7 400.5,234.0 404.1,236.2 409.5,237.1 416.6,235.3 416.6,174.1"/>
<polygon class="land" points="326.3,203.6 329.9,201.8 334.0,202.2 334.7,204.5 331.7,206.3 328.1,206.3"/>
<polygon class="land" points="381.2,242.1 384.4,243.0 387.1,246.5 386.6,249.2 383.5,248.0 381.2,244.7"/>
<polygon class="land" points="399.3,242.6 401.8,242.2 402.3,245.6 400.5,248.7 399.3,246.5"/>
<polygon class="land" points="390.7,254.6 394.3,251.9 398.7,252.8 399.6,257.3 396.9,260.5 393.0,259.4"/>
<polygon class="sea" points="409.6,234.9 419.5,238.5 423.0,243.0 427.9,246.5 430.2,251.9 426.1,257.3 423.0,262.6 427.5,268.0 430.2,275.1 432.9,282.3 432.0,289.5 435.6,296.6 409.6,296.6"/>
<polygon class="land" points="242.0,369.2 246.5,362.9 251.8,364.7 254.5,358.5 259.9,362.0 266.1,363.8 270.6,360.2 276.9,362.0 284.0,362.9 289.4,367.4 293.9,371.9 298.3,367.4 303.7,370.1 308.2,373.7 310.8,379.0 305.5,379.9 301.9,382.6 309.1,385.3 314.4,388.9 318.0,388.9 314.4,393.3 309.1,395.1 305.5,398.7 303.7,405.8 301.9,413.0 300.1,420.1 298.3,427.3 294.7,432.7 296.6,431.0 291.8,437.0 287.1,435.8 285.9,441.7 279.9,442.9 283.5,447.7 281.1,454.8 275.1,458.4 268.0,459.6 260.8,458.4 253.7,457.2 246.5,459.6 239.4,462.0 234.6,459.6 228.7,457.2 222.7,460.8 215.5,463.2 208.4,466.8 201.2,471.5 195.3,476.3 191.7,468.0 189.8,459.6 191.7,451.3 195.3,442.9 198.8,435.8 203.6,428.6 208.4,425.0 213.2,422.7 217.9,419.1 219.1,414.3 223.9,416.7 229.8,411.9 226.3,407.2 229.8,400.0 229.5,402.3 233.9,398.7 238.4,393.3 242.9,386.2 246.5,379.0 244.7,373.7"/>
<polygon class="sea" points="270.4,447.7 276.3,445.3 279.9,447.7 278.7,452.9 274.0,454.4 269.9,451.3"/>
<polygon class="land" points="264.4,482.3 269.2,479.9 271.6,484.6 276.3,485.8 284.7,484.6 289.5,487.0 292.3,493.0 289.5,497.8 282.3,499.7 275.1,500.1 270.4,497.8 266.8,494.2 268.0,489.4 263.7,487.0"/>
<polygon class="land" points="182.2,401.2 188.1,400.0 194.1,401.2 191.7,406.0 184.5,406.0"/>
<polygon class="land" points="310.9,459.6 313.3,459.6 313.3,462.0 310.9,462.0"/>
<polygon class="land" points="307.3,516.8 309.7,516.8 309.7,519.9 307.3,519.9"/>
<polygon class="land" points="250.0,332.5 254.5,328.9 260.8,326.3 266.1,328.0 269.7,333.4 274.2,332.5 276.9,337.9 282.2,342.4 285.8,348.6 284.9,355.8 282.2,360.2 276.9,358.5 271.5,356.7 267.9,353.1 263.5,349.5 259.0,352.2 253.6,351.3 248.2,348.6 244.7,344.1 248.2,339.7 251.8,337.9"/>
<polygon class="sea" points="256.3,336.1 259.9,335.7 260.8,341.1 257.2,341.8"/>
<polygon class="sea" points="264.7,334.7 267.6,334.3 268.3,342.9 265.4,343.2"/>
<polygon class="land" points="227.1,325.4 233.0,324.5 233.9,330.7 232.2,337.9 233.0,345.0 230.4,349.5 226.8,348.6"/>
<polygon class="land" points="237.5,325.4 242.9,324.5 243.8,330.7 242.0,337.9 242.9,345.0 240.2,348.6 237.2,346.8 237.9,336.1"/>
<polygon class="land" points="223.9,263.2 229.9,261.7 234.4,263.9 237.4,268.4 242.6,270.6 241.8,275.9 237.4,278.8 232.9,282.6 229.9,280.3 229.2,274.4 226.2,271.4 223.2,267.7"/>
<polygon class="land" points="233.6,290.0 237.4,289.3 238.1,295.2 237.4,304.2 234.1,304.9 232.9,298.2"/>
<polygon class="land" points="239.6,287.5 244.8,287.0 245.6,292.3 243.3,295.5 240.0,294.5"/>
<polygon class="land" points="249.0,281.5 252.3,280.6 254.5,286.3 254.0,293.5 250.8,293.0 249.6,287.0"/>
<polygon class="land" points="252.3,299.7 257.5,300.5 258.5,304.2 254.5,305.4 252.0,303.0"/>
<polygon class="land" points="244.8,307.2 248.5,307.5 249.0,311.3 245.6,311.9"/>
<polygon class="land" points="231.4,313.4 235.9,312.4 240.3,313.9 240.0,317.9 234.4,318.8 231.1,316.8"/>
<polygon class="land" points="248.5,313.4 253.7,312.4 259.7,312.8 259.4,316.4 253.0,317.9 249.0,316.8"/>
<polygon class="land" points="215.0,306.4 220.2,307.2 221.3,312.4 219.5,317.6 215.0,317.6"/>
<polygon class="land" points="215.0,320.6 220.2,321.3 221.0,326.5 218.7,329.5 215.0,329.5"/>
<polygon class="land" points="227.7,322.4 231.4,322.1 231.7,325.0 228.1,325.3"/>
<polygon class="land" points="297.0,174.0 290.2,176.7 280.8,179.4 276.8,183.4 286.2,186.1 295.6,191.4 292.9,199.5 286.2,206.2 278.2,211.6 262.1,218.3 248.6,223.6 246.5,225.1 241.2,227.8 234.9,232.2 230.4,238.5 227.8,244.7 223.3,250.1 218.7,250.4 214.6,255.7 209.3,259.8 205.2,263.8 201.2,268.5 197.2,269.8 195.2,271.8 192.5,275.8 190.5,281.2 185.1,283.9 182.4,285.2 185.1,286.6 189.8,286.6 191.8,290.6 189.1,296.0 185.1,301.3 183.8,306.7 182.4,312.1 178.4,317.4 182.4,320.1 186.5,322.8 190.5,328.2 184.7,300.0 183.2,306.0 184.7,310.4 181.7,314.9 178.0,317.1 180.2,319.4 184.7,322.4 189.2,323.8 191.4,326.8 189.2,329.8 183.2,332.0 178.7,335.8 174.3,337.3 170.6,338.0 172.0,333.5 169.8,331.3 166.8,335.8 162.4,338.7 157.9,335.8 156.4,329.8 151.9,327.6 146.0,323.8 140.0,319.4 133.7,316.5 126.5,317.4 121.2,320.0 116.7,323.6 114.0,330.8 112.2,337.9 108.7,345.1 106.0,352.2 103.3,359.4 99.7,364.7 94.3,366.5 89.9,370.1 86.8,375.5 89.0,379.4 96.1,378.5 105.1,376.7 108.7,379.4 112.2,383.0 118.5,383.9 123.9,381.2 126.5,376.7 130.1,374.0 137.3,373.2 144.4,372.3 149.8,374.0 153.5,373.5 155.2,379.7 153.5,386.0 150.8,392.2 148.1,397.6 144.5,403.0 140.0,405.6 138.2,410.1 140.9,415.5 146.3,417.3 150.8,419.1 151.7,423.5 148.1,428.0 143.6,432.5 140.0,436.0 137.4,440.5 136.5,447.7 135.6,455.0 133.7,459.4 134.6,464.7 130.1,468.3 125.6,466.5 121.2,463.9 115.8,461.2 110.4,457.6 106.9,452.2 103.3,446.9 99.7,441.5 95.2,436.1 90.8,431.7 85.4,428.1 80.0,425.4 73.8,421.8 44.3,421.8 20.0,300.0 40.0,174.0 296.0,174.0"/>
<polygon class="sea" points="105.1,174.1 106.0,180.4 104.2,186.6 108.7,190.2 115.8,189.3 122.1,185.7 128.3,182.2 133.7,178.6 139.1,183.0 148.0,183.6 155.1,184.3 162.3,182.5 176.6,181.8 176.6,174.1"/>
<polygon class="sea" points="174.1,174.1 209.9,174.1 201.8,178.9 194.7,180.7 189.3,183.4 182.2,185.2 174.1,186.1"/>
<polygon class="land" points="73.8,422.7 80.0,426.3 85.4,429.9 89.9,434.3 93.5,439.7 95.2,444.2 90.8,442.4 88.1,446.0 84.5,441.5 80.9,437.0 77.4,431.7 65.7,427.2"/>
<polygon class="land" points="99.7,446.9 101.9,447.2 102.9,451.9 100.8,452.2"/>
<polygon class="land" points="100.6,470.1 106.9,471.0 114.0,469.2 119.4,471.0 124.7,471.9 120.3,474.6 117.6,479.1 120.3,484.4 122.1,488.0 118.5,492.5 115.8,496.0 112.2,493.4 109.5,488.0 106.0,482.6 103.3,476.4"/>
<polygon class="sea" points="88.1,300.4 92.6,297.7 97.9,296.8 99.4,299.5 95.2,302.2 89.9,303.6"/>
<polygon class="sea" points="80.0,301.8 84.5,300.4 85.4,303.0 80.9,304.3"/>
<polygon class="sea" points="59.5,328.1 63.9,330.8 67.5,336.1 69.3,343.3 66.6,350.4 62.2,354.0 59.5,352.2 60.4,345.1 61.3,337.9 59.5,333.5"/>
<polygon class="sea" points="72.0,337.0 75.6,337.6 76.1,341.1 72.5,341.5"/>
<polygon class="sea" points="70.7,305.7 73.8,304.8 74.7,312.0 71.5,312.9"/>
<polygon class="sea" points="68.4,328.1 71.5,327.5 72.0,332.9 68.9,333.5"/>
<polygon class="sea" points="156.9,246.5 160.5,245.6 162.3,253.7 163.2,260.8 162.3,268.9 159.6,269.8 158.7,260.8 156.0,255.5"/>
<polygon class="sea" points="136.4,258.2 139.1,257.6 141.2,262.6 140.8,268.0 138.2,268.4 136.9,263.5"/>
<polygon class="sea" points="118.5,285.5 122.1,284.4 125.1,287.7 123.9,289.8 119.7,289.1"/>
<polygon class="sea" points="189.3,246.5 192.0,242.1 194.7,244.7 195.6,250.1 198.2,241.2 200.0,243.9 198.2,251.9 196.5,256.4 192.9,255.5 192.0,250.1 190.2,253.7 188.4,251.9"/>
<polygon class="sea" points="117.2,428.1 120.3,427.2 123.3,433.5 122.1,437.0 119.0,435.2"/>
<polygon class="sea" points="126.5,450.8 129.8,450.4 130.1,453.7 127.1,454.0"/>
<polygon class="land" points="152.6,347.5 157.0,343.9 162.4,344.8 166.0,348.4 165.1,352.9 160.6,355.6 157.9,358.2 155.2,354.7 152.9,352.0"/>
<polygon class="land" points="147.5,352.5 150.4,352.9 151.1,356.5 148.6,357.4"/>
<polygon class="land" points="172.2,343.0 179.4,341.3 186.5,342.2 194.6,343.9 195.5,349.3 190.1,353.8 183.0,352.9 177.6,350.2 173.1,348.4"/>
<polygon class="sea" points="180.3,344.8 186.5,345.4 185.6,348.4 180.8,347.9"/>
<polygon class="land" points="157.0,369.0 158.8,369.0 158.8,372.6 157.0,372.6"/>
<polygon class="land" points="183.9,367.2 186.5,367.5 186.9,373.5 184.2,373.5"/>
<polygon class="land" points="198.2,345.7 220.5,345.7 220.5,349.3 217.8,356.5 214.3,361.8 211.6,368.1 208.9,374.3 207.1,380.6 205.3,386.0 200.8,387.8 196.4,390.4 194.6,395.8 193.7,402.1 191.0,405.6 185.6,405.6 183.0,403.0 183.9,396.7 184.7,390.4 185.6,385.1 183.0,388.7 179.4,394.0 175.8,398.5 173.1,403.9 170.4,408.3 166.9,408.3 165.1,403.9 163.3,406.5 160.6,405.6 159.7,399.4 160.6,392.2 164.2,386.9 166.9,381.5 165.1,376.1 163.6,370.8 166.0,368.1 168.7,369.9 170.4,375.2 174.0,377.9 177.6,377.0 180.3,379.7 182.1,384.2 184.7,380.6 188.3,377.0 191.9,373.5 195.5,369.0 198.2,363.6 199.1,358.2 198.2,352.0"/>
<polygon class="sea" points="180.3,383.6 183.5,383.3 183.9,387.4 180.6,387.8"/>
<polygon class="land" points="226.8,334.1 235.0,334.1 235.0,347.5 229.5,347.9 227.3,342.2"/>
<polygon class="land" points="197.4,334.3 204.1,333.1 211.5,334.0 220.5,335.8 221.2,341.7 214.5,342.5 210.0,344.7 209.3,350.7 205.6,351.4 199.6,349.2 197.8,343.2"/>
<polygon class="land" points="226.4,322.4 230.9,322.1 235.4,323.8 236.1,334.3 233.1,334.6 232.7,343.2 235.4,344.0 235.4,349.2 229.4,349.5 227.2,344.7 226.7,332.8"/>
<polygon class="land" points="207.1,310.7 213.8,310.1 220.5,311.6 220.2,316.1 213.8,316.7 207.8,315.6"/>
<polygon class="land" points="214.5,322.4 220.5,322.7 221.4,328.0 215.3,328.3"/>
<polygon class="land" points="196.6,319.4 201.1,319.1 205.6,320.6 205.3,324.6 199.6,324.7 196.9,323.1"/>
<polygon class="land" points="189.2,311.9 193.9,311.9 194.5,316.4 189.5,316.4"/>
<polygon class="land" points="230.9,313.4 240.0,313.1 240.0,319.4 231.7,319.4"/>
<polygon class="land" points="152.7,344.7 157.9,343.5 163.8,344.7 167.1,349.2 166.1,355.9 162.4,359.6 156.4,359.3 153.1,353.7"/>
<polygon class="land" points="175.0,344.0 183.2,342.9 190.7,343.5 195.1,347.7 193.7,354.4 186.2,355.4 178.7,353.7 175.5,349.2"/>
<polygon class="land" points="140.0,371.5 146.0,371.2 152.7,374.5 153.4,383.5 151.9,392.4 152.7,400.0 140.0,400.0"/>
<polygon class="land" points="159.4,367.8 166.8,367.1 169.8,371.5 175.8,370.0 183.2,371.5 182.5,380.5 178.7,389.4 177.3,400.0 162.4,400.0 161.6,389.4 159.4,380.5"/>
<polygon class="land" points="197.2,277.2 199.9,273.8 205.2,271.2 208.6,271.8 209.3,278.5 211.9,279.9 214.6,272.5 216.6,273.8 216.0,278.5 221.3,275.2 225.4,276.5 226.7,281.2 224.0,285.2 220.0,287.9 218.7,291.9 221.3,296.0 224.0,300.0 218.7,301.3 210.6,298.7 205.2,297.3 202.6,301.3 198.5,304.0 195.2,301.3 193.8,296.0 196.5,290.6 197.2,283.9"/>
<polygon class="land" points="207.9,309.4 213.3,307.4 220.0,308.7 222.0,312.7 218.7,316.8 211.9,317.4 208.2,314.1"/>
<polygon class="land" points="193.2,318.8 198.5,317.4 203.9,319.4 203.2,324.1 197.9,325.5 193.4,323.5"/>
<polygon class="land" points="211.9,321.5 218.0,320.1 221.3,324.1 220.0,330.2 214.6,330.8 212.2,326.8"/>
<polygon class="land" points="185.1,311.4 189.8,310.5 191.8,313.4 189.8,316.1 185.8,315.8"/>
<polygon class="land" points="424.4,254.1 422.6,260.4 424.4,265.7 429.8,271.1 432.5,276.5 431.6,281.8 434.3,287.2 432.5,291.7 426.2,292.6 420.8,294.3 418.2,298.8 419.9,305.1 417.3,309.5 414.6,312.2 419.1,314.9 424.4,315.8 428.0,321.2 429.8,328.3 432.5,335.5 437.8,339.9 442.3,344.4 444.1,351.6 446.8,355.1 451.2,352.5 456.6,351.6 456.6,254.1"/>
<polygon class="sea" points="431.2,306.9 435.1,306.0 438.7,309.5 439.3,313.7 436.0,314.0 433.0,311.3"/>
<polygon class="land" points="454.0,254.0 660.0,254.0 660.0,640.0 454.0,640.0"/>
<polygon class="land" points="414.0,334.0 536.0,334.0 536.0,457.0 414.0,457.0"/>
<polygon class="sea" points="409.6,332.9 431.5,332.9 438.2,338.6 441.8,342.2 442.7,347.5 441.8,352.9 445.8,355.0 449.0,361.8 445.4,363.6 441.8,368.1 438.2,369.9 442.7,373.5 447.2,377.9 450.8,383.3 453.5,388.7 459.7,387.8 466.9,385.1 468.7,387.8 461.5,393.1 455.2,398.5 451.7,403.0 455.2,404.7 453.5,410.1 450.8,417.3 446.3,422.6 444.5,429.8 443.6,436.9 444.5,442.3 441.8,449.5 439.1,456.6 409.6,456.6"/>
<polygon class="sea" points="445.8,355.0 450.8,350.2 455.2,347.5 463.3,346.6 464.7,349.3 458.8,351.1 454.3,354.7 453.5,360.0 457.0,363.6 454.3,364.9 449.0,361.8"/>
<polygon class="sea" points="438.2,369.9 445.4,369.9 450.8,371.7 457.9,372.9 466.9,371.7 468.7,367.2 472.2,363.6 479.4,362.7 480.5,365.4 474.9,367.2 472.2,370.8 475.8,374.3 480.3,377.0 483.9,382.4 483.0,387.8 480.3,388.7 478.5,383.3 474.9,378.8 468.7,376.1 461.5,377.4 454.3,376.5 449.0,374.7 443.6,372.0"/>
<polygon class="land" points="415.0,366.3 417.7,367.2 419.5,374.3 422.2,381.5 424.8,388.7 426.6,394.9 429.3,399.4 433.8,403.9 439.1,405.6 438.2,408.3 432.9,409.2 428.4,406.5 425.7,402.1 423.0,395.8 420.4,388.7 417.7,380.6 415.0,376.1"/>
<polygon class="land" points="436.5,423.5 440.0,423.9 440.0,428.0 436.8,428.0"/>
<polygon class="land" points="432.9,436.6 437.4,435.5 440.4,437.8 439.7,441.9 434.7,442.3"/>
<polygon class="land" points="404.7,313.1 409.2,312.6 411.9,316.7 408.3,319.4 405.6,317.6"/>
<polygon class="land" points="398.5,321.5 403.9,320.3 406.5,323.9 403.9,328.3 398.5,329.2 394.0,328.7 393.1,326.2 396.7,325.1"/>
<polygon class="land" points="391.3,254.1 399.4,254.1 398.5,258.9 394.0,259.5"/>
<polygon class="land" points="384.2,360.2 387.2,357.8 390.1,358.7 391.9,362.3 390.8,369.5 392.6,373.0 388.7,374.5 386.0,371.2 382.9,367.3"/>
<polygon class="land" points="345.7,402.7 350.2,399.1 353.8,394.7 359.1,392.9 363.6,394.7 361.8,399.1 359.1,403.6 361.8,407.2 365.0,409.0 364.5,412.6 360.9,411.7 358.2,413.5 358.2,418.8 353.8,417.9 351.1,413.5 347.5,409.9"/>
<polygon class="land" points="415.5,374.1 419.1,382.2 421.7,389.3 424.4,396.5 428.0,402.7 431.6,407.2 436.9,406.3 440.5,405.4 438.7,409.0 433.4,409.9 428.9,409.0 425.3,403.6 421.7,397.4 418.2,390.2 415.5,383.0 413.3,374.1"/>
<polygon class="land" points="393.0,448.6 387.6,452.2 383.1,457.5 378.7,462.9 376.0,468.2 373.3,475.4 369.7,482.6 367.0,489.7 363.5,496.9 359.9,504.0 355.4,510.3 351.8,514.7 349.1,520.1 350.0,527.3 351.8,532.6 354.5,536.6 359.0,538.4 363.5,536.6 367.0,533.0 369.7,529.4 372.4,527.6 374.2,530.8 375.1,536.2 377.8,541.6 380.4,546.0 384.0,549.6 387.6,550.9 391.2,548.4 392.6,542.5 394.4,538.0 396.0,532.6 394.4,528.2 392.6,523.7 390.8,518.3 389.0,513.9 388.8,507.6 390.3,502.2 392.1,496.9 393.0,490.6 393.9,485.2 396.5,482.2 401.0,481.3 403.2,485.2 402.3,491.5 400.5,496.9 398.7,502.2 399.4,506.7 401.9,510.3 405.5,513.9 410.8,512.1 416.2,509.4 421.6,506.7 426.9,504.0 431.4,501.9 446.6,498.7 446.6,471.8 439.5,471.8 432.3,468.6 429.6,471.8 425.1,470.0 421.6,466.5 416.2,464.7 418.0,462.0 422.5,461.1 427.8,460.2 432.3,458.4 433.2,453.9 430.5,450.4 425.1,448.6 418.0,447.7 409.1,447.7 400.1,447.7"/>
<polygon class="land" points="445.5,424.1 443.7,432.2 440.1,435.7 442.8,441.1 443.7,448.2 442.8,455.4 441.0,460.8 440.1,467.0 441.9,473.3 443.7,478.7 444.6,485.8 440.1,488.5 436.5,485.8 438.3,482.2 436.5,478.7 434.7,475.1 431.2,473.3 426.7,472.4 424.0,468.3 418.7,467.0 416.9,463.5 414.2,467.9 413.3,478.7 416.9,496.5 418.7,546.6 486.6,546.6 486.6,424.1"/>
<polygon class="sea" points="436.5,482.9 441.8,481.9 444.7,485.1 443.6,488.7 439.1,489.0 436.5,486.5"/>
<polygon class="sea" points="428.4,496.2 432.9,495.1 436.8,496.7 436.5,500.3 432.0,500.8 428.6,499.0"/>
<polygon class="sea" points="457.9,495.3 461.9,494.7 463.3,497.2 460.6,498.8 457.9,497.6"/>
<polygon class="land" points="334.1,588.9 340.4,582.6 345.7,578.2 351.1,573.7 354.7,571.0 358.2,569.2 363.6,566.5 367.2,563.9 368.1,561.2 370.8,558.5 376.1,559.4 381.5,557.6 388.7,558.0 394.0,555.3 399.4,552.6 404.7,549.9 410.1,548.7 412.8,545.1 411.9,539.7 411.0,534.3 412.8,529.9 416.4,530.8 419.9,529.0 419.1,524.5 415.5,522.7 412.8,523.6 413.7,519.1 417.3,514.7 422.6,509.3 428.0,504.8 432.5,502.2 436.9,499.5 442.3,496.8 445.9,494.1 456.6,494.1 456.6,616.6 334.1,616.6"/>
<polygon class="land" points="365.4,546.9 369.0,545.1 370.8,548.7 369.9,554.0 370.8,558.5 368.1,561.5 365.4,557.6 364.5,552.2"/>
<polygon class="land" points="373.5,553.1 377.9,552.2 378.8,556.7 374.3,557.6"/>
<polygon class="sea" points="376.5,530.8 379.4,530.4 380.1,535.2 377.2,535.8"/>
<polygon class="sea" points="381.1,532.0 384.0,531.7 384.5,537.0 381.9,537.4"/>
<polygon class="land" points="384.0,482.0 426.0,482.0 426.0,562.0 384.0,562.0"/>
<polygon class="sea" points="393.9,484.8 397.9,482.1 401.9,482.7 402.7,486.1 401.4,490.1 400.1,494.1 398.7,498.2 398.2,502.2 399.5,506.2 402.2,510.2 405.4,512.9 408.7,514.3 412.7,512.1 416.7,509.2 420.7,506.9 424.7,504.7 428.8,503.5 429.6,508.4 425.6,510.6 421.5,513.3 417.5,516.0 414.8,518.3 412.3,520.4 411.6,523.0 414.3,524.3 418.0,523.7 420.7,525.0 421.5,528.3 419.6,530.6 416.2,529.8 414.0,527.9 412.8,529.8 413.5,534.4 414.2,539.7 412.9,545.1 408.9,548.1 404.9,549.4 400.9,550.7 396.8,552.1 392.8,552.8 390.1,556.1 386.1,557.5 382.1,556.1 379.4,557.5 375.1,555.8 378.5,553.2 383.8,552.1 387.2,551.1 390.1,548.9 393.2,545.8 395.2,543.1 396.0,539.7 394.7,535.7 394.0,531.7 395.4,527.7 396.7,523.7 394.0,521.6 390.0,518.3 388.4,514.3 388.0,510.2 388.7,506.2 390.3,500.8 392.0,495.5 393.4,490.1"/>
<polygon class="land" points="397.7,533.0 399.9,532.4 400.6,537.1 398.6,537.7"/>
<polygon class="land" points="312.2,542.4 316.7,539.7 320.3,540.6 323.9,546.0 322.1,550.4 319.4,553.1 323.9,557.6 328.3,563.0 331.9,568.3 336.4,572.8 337.3,578.2 333.7,580.8 336.4,583.5 330.1,584.4 323.9,583.5 317.6,584.4 311.3,586.2 308.7,585.3 313.1,581.7 316.7,579.1 313.1,576.4 314.0,571.9 317.6,569.2 316.7,564.7 313.1,562.1 314.0,557.6 311.3,553.1 310.4,547.8"/>
<polygon class="land" points="290.8,562.1 297.0,558.5 303.3,557.6 307.8,560.3 306.9,566.5 304.2,571.9 298.8,574.6 292.6,576.4 288.1,574.6 287.2,571.0 290.8,568.3 289.9,564.7"/>
<polygon class="land" points="310.4,596.0 315.8,594.3 321.5,595.1 324.7,590.1 328.3,592.5 333.7,591.6 339.1,588.0 344.4,582.6 349.8,576.4 355.1,571.9 360.5,568.3 365.9,565.6 371.2,563.0 376.6,560.8 376.6,616.6 314.0,616.6 315.8,602.3 312.2,599.6"/>
<polygon class="land" points="307.4,516.8 309.2,516.8 309.2,520.0 307.4,520.0"/>
<polygon class="land" points="325.3,526.8 327.1,526.8 327.1,529.9 325.3,529.9"/>
<polygon class="land" points="318.0,536.5 320.1,536.5 320.1,538.8 318.0,538.8"/>
<polygon class="land" points="305.6,540.6 307.6,540.6 307.6,543.3 305.6,543.3"/>
<polygon class="sea" points="542.0,256.8 546.5,255.0 553.7,256.3 560.8,259.9 567.1,264.3 571.5,268.8 569.7,270.6 564.4,267.0 557.2,262.6 551.0,259.9 544.7,259.3"/>
</g>
<g mask="url(#landmask)"><g mask="url(#veg)"><rect width="750" height="671" fill="url(#gpp)"/><rect width="312" height="671" fill="url(#gppNA)"/><rect x="105" y="175" width="60" height="56" fill="url(#glow2)"/><rect x="350" y="440" width="120" height="120" fill="url(#glow)"/><rect x="55" y="375" width="115" height="115" fill="url(#shade)"/><g fill="#4a2915" filter="url(#coast)">
<polygon points="447.5,302.0 452.0,301.0 455.0,304.5 459.0,305.0 462.0,309.5 461.0,313.0 463.5,317.0 460.0,320.5 457.0,317.0 455.5,313.0 452.0,312.0 450.5,307.5 448.0,306.0"/>
<polygon points="470.0,306.5 475.0,305.0 479.0,308.0 484.0,308.5 487.0,312.5 491.5,314.5 490.5,319.0 493.0,323.0 488.5,326.5 485.0,322.5 481.5,321.5 479.0,316.5 475.5,315.5 473.0,311.0"/>
<polygon points="453.5,232.5 456.0,229.5 459.5,228.5 460.5,232.0 459.0,236.0 456.0,239.0 452.5,237.0"/>
</g></g></g>
<g class="grid">
<circle cx="331.3" cy="332.5" r="255.2"/>
<circle cx="331.3" cy="332.5" r="198.5"/>
<circle cx="331.3" cy="332.5" r="135.8"/>
<circle cx="331.3" cy="332.5" r="68.9"/>
<line x1="331.3" y1="332.5" x2="331.3" y2="604.1"/>
<line x1="331.3" y1="332.5" x2="424.2" y2="587.7"/>
<line x1="331.3" y1="332.5" x2="505.9" y2="540.6"/>
<line x1="331.3" y1="332.5" x2="566.5" y2="468.3"/>
<line x1="331.3" y1="332.5" x2="598.8" y2="379.7"/>
<line x1="331.3" y1="332.5" x2="598.8" y2="285.3"/>
<line x1="331.3" y1="332.5" x2="566.5" y2="196.7"/>
<line x1="331.3" y1="332.5" x2="505.9" y2="124.4"/>
<line x1="331.3" y1="332.5" x2="424.2" y2="77.3"/>
<line x1="331.3" y1="332.5" x2="331.3" y2="60.9"/>
<line x1="331.3" y1="332.5" x2="238.4" y2="77.3"/>
<line x1="331.3" y1="332.5" x2="156.7" y2="124.4"/>
<line x1="331.3" y1="332.5" x2="96.1" y2="196.7"/>
<line x1="331.3" y1="332.5" x2="63.8" y2="285.3"/>
<line x1="331.3" y1="332.5" x2="63.8" y2="379.7"/>
<line x1="331.3" y1="332.5" x2="96.1" y2="468.3"/>
<line x1="331.3" y1="332.5" x2="156.7" y2="540.6"/>
<line x1="331.3" y1="332.5" x2="238.4" y2="587.7"/>
</g>
<circle cx="331.3" cy="332.5" r="3" fill="#3a2626"/>
<path class="mk" d="M160.5,233.1H178.5M169.5,224.1V242.1"/>
<path class="mk" d="M171.4,233.1H189.4M180.4,224.1V242.1"/>
<path class="mk" d="M97,272.9H115M106,263.9V281.9"/>
<path class="mk" d="M217,230.1H235M226,221.1V239.1"/>
<path class="mk" d="M515.2,333.2H533.2M524.2,324.2V342.2"/>
<path class="mk" d="M383.7,468.8H401.7M392.7,459.8V477.8"/>
<path class="mk" d="M391.8,468.8H409.8M400.8,459.8V477.8"/>
<path class="mk" d="M380.2,496.5H398.2M389.2,487.5V505.5"/>
<path class="mk" d="M400.8,503.2H418.8M409.8,494.2V512.2"/>
<path class="mk" d="M418.8,519H436.8M427.8,510V528"/>
<path class="mk" d="M441.5,517.3H459.5M450.5,508.29999999999995V526.3"/>
<path class="mk" d="M381.5,523.4H399.5M390.5,514.4V532.4"/>
</g>
<rect x="660.5" y="14.75" width="23.5" height="636.75" fill="url(#cop)"/>
<rect x="660.5" y="648.9" width="23.5" height="2.6" fill="#19d3df"/>
<rect x="661.0" y="15.25" width="22.5" height="635.75" fill="none" stroke="#5a4a40" stroke-opacity=".55" stroke-width="1"/>
<text class="tick" x="690" y="658.1">0</text>
<line x1="677.5" y1="545.4" x2="684.0" y2="545.4" stroke="#222" stroke-opacity=".7" stroke-width="1"/>
<text class="tick" x="692" y="552.0">200</text>
<line x1="677.5" y1="439.2" x2="684.0" y2="439.2" stroke="#222" stroke-opacity=".7" stroke-width="1"/>
<text class="tick" x="692" y="445.9">400</text>
<line x1="677.5" y1="333.1" x2="684.0" y2="333.1" stroke="#222" stroke-opacity=".7" stroke-width="1"/>
<text class="tick" x="692" y="339.7">600</text>
<line x1="677.5" y1="227.0" x2="684.0" y2="227.0" stroke="#222" stroke-opacity=".7" stroke-width="1"/>
<text class="tick" x="692" y="233.6">800</text>
<line x1="677.5" y1="120.9" x2="684.0" y2="120.9" stroke="#222" stroke-opacity=".7" stroke-width="1"/>
<text class="tick" x="692" y="127.5">1000</text>
<text class="tick" x="692" y="21.4">1200</text>
</svg></body></html>
